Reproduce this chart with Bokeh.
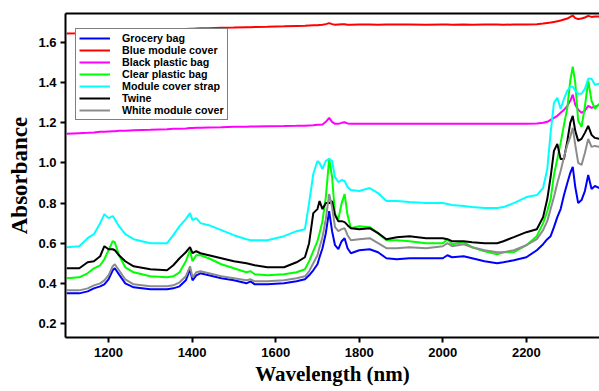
from bokeh.plotting import figure
from bokeh.models import Legend, LegendItem, LinearAxis, FixedTicker, PrintfTickFormatter, Range1d
from bokeh.embed import file_html
from bokeh.resources import INLINE

# NIR absorbance spectra of contaminant materials
wavelength = [
    1100, 1130, 1150, 1165, 1180, 1190, 1200, 1210, 1215, 1225,
    1240, 1260, 1300, 1340, 1355, 1370, 1385, 1395, 1401, 1410,
    1420, 1440, 1470, 1500, 1530, 1540, 1550, 1580, 1620, 1650,
    1670, 1680, 1690, 1700, 1705, 1712, 1720, 1728, 1735, 1742,
    1750, 1758, 1765, 1772, 1780, 1800, 1825, 1845, 1865, 1890,
    1920, 1960, 2000, 2011, 2022, 2050, 2070, 2100, 2130, 2145,
    2170, 2200, 2225, 2240, 2250, 2258, 2266, 2274, 2282, 2290,
    2298, 2305, 2311, 2317, 2324, 2332, 2340, 2348, 2356, 2364,
    2375,
]

grocery_bag = [
    0.350, 0.350, 0.360, 0.375, 0.385, 0.395, 0.420, 0.465, 0.475, 0.445,
    0.400, 0.380, 0.370, 0.370, 0.375, 0.385, 0.415, 0.470, 0.415, 0.440,
    0.450, 0.440, 0.425, 0.415, 0.400, 0.410, 0.395, 0.395, 0.400, 0.410,
    0.420, 0.440, 0.465, 0.495, 0.530, 0.575, 0.650, 0.760, 0.660, 0.590,
    0.570, 0.610, 0.625, 0.575, 0.550, 0.565, 0.570, 0.555, 0.525, 0.520,
    0.525, 0.525, 0.525, 0.540, 0.530, 0.535, 0.525, 0.510, 0.500, 0.505,
    0.515, 0.530, 0.565, 0.595, 0.620, 0.635, 0.680, 0.730, 0.770, 0.840,
    0.900, 0.950, 0.980, 0.880, 0.800, 0.815, 0.860, 0.940, 0.870, 0.885,
    0.875,
]

blue_module_cover = [
    1.645, 1.647, 1.649, 1.650, 1.652, 1.653, 1.654, 1.655, 1.655, 1.656,
    1.657, 1.659, 1.662, 1.665, 1.666, 1.667, 1.668, 1.669, 1.669, 1.670,
    1.671, 1.672, 1.674, 1.675, 1.677, 1.677, 1.678, 1.679, 1.681, 1.683,
    1.684, 1.685, 1.686, 1.687, 1.688, 1.689, 1.692, 1.697, 1.692, 1.689,
    1.690, 1.691, 1.691, 1.689, 1.689, 1.690, 1.690, 1.689, 1.690, 1.690,
    1.690, 1.689, 1.690, 1.690, 1.689, 1.690, 1.689, 1.690, 1.690, 1.689,
    1.690, 1.690, 1.692, 1.695, 1.698, 1.700, 1.703, 1.706, 1.710, 1.715,
    1.720, 1.728, 1.735, 1.722, 1.718, 1.720, 1.725, 1.733, 1.728, 1.730,
    1.730,
]

black_plastic_bag = [
    1.145, 1.148, 1.150, 1.152, 1.155, 1.156, 1.157, 1.158, 1.158, 1.160,
    1.161, 1.163, 1.165, 1.168, 1.170, 1.171, 1.172, 1.174, 1.174, 1.175,
    1.175, 1.177, 1.178, 1.180, 1.181, 1.182, 1.182, 1.183, 1.184, 1.185,
    1.186, 1.187, 1.188, 1.190, 1.190, 1.192, 1.205, 1.225, 1.205, 1.195,
    1.195, 1.200, 1.203, 1.197, 1.195, 1.195, 1.195, 1.195, 1.195, 1.195,
    1.195, 1.195, 1.195, 1.196, 1.195, 1.195, 1.195, 1.195, 1.195, 1.195,
    1.195, 1.195, 1.197, 1.200, 1.205, 1.215, 1.225, 1.235, 1.250, 1.265,
    1.285, 1.310, 1.340, 1.290, 1.265, 1.250, 1.260, 1.285, 1.275, 1.280,
    1.290,
]

clear_plastic_bag = [
    0.425, 0.430, 0.450, 0.475, 0.490, 0.520, 0.565, 0.610, 0.605, 0.540,
    0.480, 0.455, 0.435, 0.430, 0.435, 0.455, 0.510, 0.565, 0.510, 0.540,
    0.540, 0.525, 0.495, 0.475, 0.455, 0.460, 0.445, 0.440, 0.445, 0.455,
    0.470, 0.510, 0.560, 0.610, 0.650, 0.710, 0.830, 1.020, 0.930, 0.745,
    0.720, 0.800, 0.845, 0.740, 0.675, 0.685, 0.680, 0.650, 0.615, 0.615,
    0.610, 0.600, 0.600, 0.620, 0.595, 0.605, 0.580, 0.560, 0.545, 0.555,
    0.555, 0.590, 0.635, 0.700, 0.760, 0.820, 0.940, 1.020, 1.100, 1.190,
    1.275, 1.410, 1.480, 1.400, 1.210, 1.180, 1.280, 1.410, 1.310, 1.270,
    1.295,
]

module_cover_strap = [
    0.580, 0.585, 0.625, 0.645, 0.700, 0.745, 0.725, 0.735, 0.720, 0.685,
    0.645, 0.620, 0.600, 0.600, 0.640, 0.685, 0.720, 0.750, 0.715, 0.725,
    0.700, 0.690, 0.665, 0.640, 0.620, 0.615, 0.615, 0.615, 0.635, 0.660,
    0.670, 0.800, 0.945, 1.010, 1.000, 0.970, 1.010, 1.020, 1.010, 0.930,
    0.905, 0.915, 0.910, 0.880, 0.865, 0.860, 0.875, 0.850, 0.810, 0.810,
    0.805, 0.800, 0.800, 0.795, 0.790, 0.785, 0.780, 0.775, 0.775, 0.780,
    0.800, 0.830, 0.840, 0.875, 0.970, 1.150, 1.300, 1.325, 1.270, 1.320,
    1.360, 1.380, 1.380, 1.360, 1.345, 1.345, 1.370, 1.420, 1.420, 1.390,
    1.395,
]

twine = [
    0.475, 0.475, 0.505, 0.510, 0.535, 0.585, 0.570, 0.570, 0.565, 0.540,
    0.510, 0.485, 0.470, 0.465, 0.490, 0.525, 0.555, 0.580, 0.550, 0.560,
    0.550, 0.540, 0.525, 0.510, 0.500, 0.495, 0.490, 0.480, 0.480, 0.505,
    0.530, 0.600, 0.750, 0.770, 0.810, 0.770, 0.800, 0.800, 0.810, 0.740,
    0.710, 0.710, 0.705, 0.690, 0.675, 0.670, 0.675, 0.650, 0.620, 0.630,
    0.635, 0.625, 0.625, 0.620, 0.610, 0.610, 0.605, 0.600, 0.600, 0.610,
    0.630, 0.655, 0.670, 0.730, 0.820, 0.930, 1.060, 1.095, 1.020, 1.020,
    1.110, 1.200, 1.235, 1.160, 1.110, 1.120, 1.150, 1.185, 1.140, 1.125,
    1.120,
]

white_module_cover = [
    0.365, 0.365, 0.375, 0.390, 0.400, 0.415, 0.440, 0.485, 0.495, 0.465,
    0.420, 0.395, 0.385, 0.385, 0.390, 0.405, 0.435, 0.485, 0.430, 0.455,
    0.460, 0.450, 0.435, 0.425, 0.415, 0.420, 0.410, 0.410, 0.415, 0.425,
    0.435, 0.460, 0.500, 0.540, 0.580, 0.630, 0.720, 0.845, 0.780, 0.680,
    0.660, 0.670, 0.675, 0.640, 0.615, 0.620, 0.625, 0.600, 0.575, 0.575,
    0.580, 0.575, 0.585, 0.600, 0.585, 0.595, 0.580, 0.565, 0.555, 0.555,
    0.565, 0.590, 0.620, 0.665, 0.710, 0.770, 0.830, 0.900, 0.960, 1.030,
    1.090, 1.130, 1.175, 1.090, 1.000, 0.990, 1.050, 1.120, 1.080, 1.085,
    1.080,
]

series_names = [
    "Grocery bag", "Blue module cover", "Black plastic bag", "Clear plastic bag",
    "Module cover strap", "Twine", "White module cover",
]
series_values = [
    grocery_bag, blue_module_cover, black_plastic_bag, clear_plastic_bag,
    module_cover_strap, twine, white_module_cover,
]
series_colors = ["#0000ff", "#ff0000", "#ff00ff", "#00ff00", "#00ffff", "#000000", "#8c8c8c"]

x_ticks = [1200, 1400, 1600, 1800, 2000, 2200, 2400]
y_ticks = [0.2, 0.4, 0.6, 0.8, 1.0, 1.2, 1.4, 1.6]

SANS = "Liberation Sans"
SERIF = "Liberation Serif"

p = figure(
    width=599, height=391,
    x_range=Range1d(1097, 2375), y_range=Range1d(0.13, 1.745),
    output_backend="svg", toolbar_location=None,
    min_border_left=65, min_border_right=0, min_border_top=13, min_border_bottom=54,
)
p.outline_line_color = None
p.grid.visible = False
p.background_fill_color = "white"
p.border_fill_color = "white"

for axis, ticks in ((p.xaxis[0], x_ticks), (p.yaxis[0], y_ticks)):
    axis.ticker = FixedTicker(ticks=ticks)
    axis.axis_line_width = 2
    axis.axis_line_color = "black"
    axis.major_tick_line_width = 2
    axis.major_tick_out = 5
    axis.major_tick_in = 0
    axis.minor_tick_line_color = None
    axis.major_label_text_font = SANS
    axis.major_label_text_font_style = "bold"
    axis.major_label_text_font_size = "13px"
    axis.major_label_text_color = "black"
    axis.axis_label_text_font = SERIF
    axis.axis_label_text_font_style = "bold"
    axis.axis_label_text_color = "black"

p.yaxis[0].formatter = PrintfTickFormatter(format="%.1f")
p.yaxis[0].axis_label = "Absorbance"
p.yaxis[0].axis_label_text_font_size = "23px"
p.yaxis[0].major_label_standoff = 4
p.yaxis[0].axis_label_standoff = 3
p.xaxis[0].axis_label = "Wavelength (nm)"
p.xaxis[0].axis_label_text_font_size = "21px"
p.xaxis[0].major_label_standoff = 5
p.xaxis[0].axis_label_standoff = 2

# top frame edge: a bare axis line with no ticks or labels
top = LinearAxis(
    ticker=FixedTicker(ticks=[]),
    axis_line_width=2, axis_line_color="black",
    major_tick_line_color=None, minor_tick_line_color=None,
    major_label_standoff=0,
)
p.add_layout(top, "above")

items = []
for name, vals, col in zip(series_names, series_values, series_colors):
    r = p.line(wavelength, vals, line_color=col, line_width=2)
    items.append(LegendItem(label=name, renderers=[r]))

legend = Legend(
    items=items, location=(10, 217),
    border_line_color="black", border_line_width=1.5,
    background_fill_color="white", background_fill_alpha=1.0,
    label_text_font=SANS, label_text_font_style="bold", label_text_font_size="10.7px",
    label_text_color="black", label_text_line_height=0.85,
    label_height=10, glyph_height=10, glyph_width=31, label_standoff=12,
    spacing=-2, padding=3, margin=0,
)
p.add_layout(legend, "center")

open("out.html", "w").write(file_html(p, INLINE))
